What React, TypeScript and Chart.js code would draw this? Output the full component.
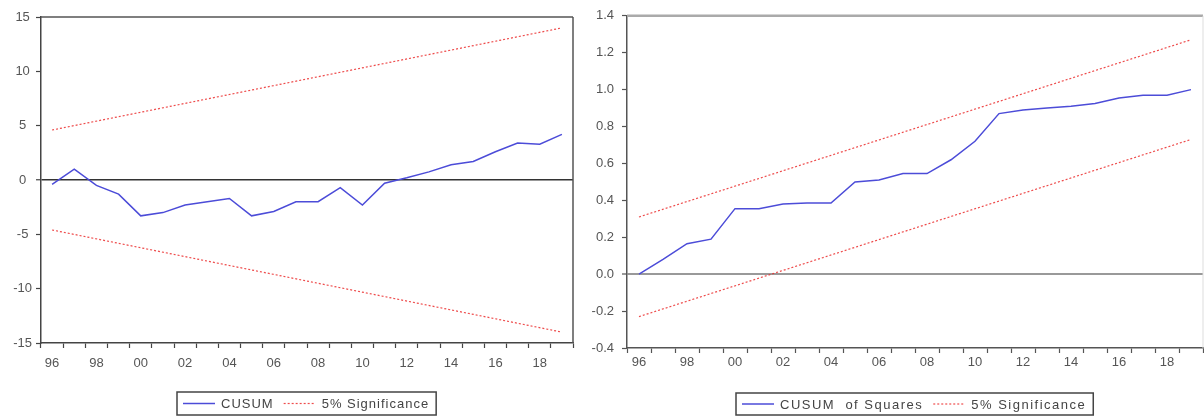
import React, { useEffect, useRef } from 'react';
import { Chart, registerables } from 'chart.js';

Chart.register(...registerables);

// ---------- data ----------
const years = ['96', '97', '98', '99', '00', '01', '02', '03', '04', '05', '06', '07',
  '08', '09', '10', '11', '12', '13', '14', '15', '16', '17', '18', '19'];

const cusum = [-0.4, 1.0, -0.5, -1.3, -3.3, -3.0, -2.3, -2.0, -1.7, -3.3, -2.9, -2.0,
  -2.0, -0.7, -2.3, -0.3, 0.2, 0.75, 1.4, 1.7, 2.6, 3.4, 3.3, 4.2];
// significance bands are straight lines: only their end values are read
const cusumUpper = [4.6, null, null, null, null, null, null, null, null, null, null, null,
  null, null, null, null, null, null, null, null, null, null, null, 14.0];
const cusumLower = [-4.6, null, null, null, null, null, null, null, null, null, null, null,
  null, null, null, null, null, null, null, null, null, null, null, -14.0];
const cusumTicks = [-15, -10, -5, 0, 5, 10, 15];

const cusumSq = [0.0, 0.08, 0.165, 0.19, 0.355, 0.355, 0.38, 0.385, 0.385, 0.50, 0.51, 0.545,
  0.545, 0.62, 0.72, 0.87, 0.89, 0.90, 0.91, 0.925, 0.955, 0.97, 0.97, 1.0];
const sqUpper = [0.31, null, null, null, null, null, null, null, null, null, null, null,
  null, null, null, null, null, null, null, null, null, null, null, 1.27];
const sqLower = [-0.23, null, null, null, null, null, null, null, null, null, null, null,
  null, null, null, null, null, null, null, null, null, null, null, 0.73];
const sqTicks = [-0.4, -0.2, 0.0, 0.2, 0.4, 0.6, 0.8, 1.0, 1.2, 1.4];

const cusumLabel = 'CUSUM';
const sqLabel = 'CUSUM  of Squares';
const sigLabel = '5% Significance';

// ---------- styling ----------
const FONT = '"Liberation Sans", Arial, sans-serif';
const BLUE = '#4c4cd8';
const RED = 'rgba(235, 45, 45, 0.85)';

Chart.defaults.font.family = FONT;

const framePlugin = {
  id: 'frame',
  afterDatasetsDraw(chart: any, _args: any, o: any) {
    const { ctx, chartArea: a } = chart;
    ctx.save();
    ctx.strokeStyle = o.topColor;
    ctx.lineWidth = o.topWidth;
    ctx.beginPath();
    ctx.moveTo(a.left, a.top);
    ctx.lineTo(a.right, a.top);
    ctx.stroke();
    ctx.strokeStyle = o.rightColor;
    ctx.lineWidth = o.rightWidth;
    ctx.beginPath();
    ctx.moveTo(a.right, a.top);
    ctx.lineTo(a.right, a.bottom);
    ctx.stroke();
    ctx.restore();
  },
};

const boxLegendPlugin = {
  id: 'boxLegend',
  afterDraw(chart: any, _args: any, o: any) {
    const { ctx, chartArea: a } = chart;
    const seen = new Set<string>();
    const items: any[] = [];
    chart.data.datasets.forEach((d: any) => {
      if (!seen.has(d.label)) {
        seen.add(d.label);
        items.push(d);
      }
    });
    ctx.save();
    ctx.font = `${o.size}px ${FONT}`;
    (ctx as any).letterSpacing = `${o.spacing}px`;
    const sampleW = o.sampleW;
    const padL = 6, gapS = 6, gapB = 10, padR = 7;
    const widths = items.map((d) => ctx.measureText(d.label).width);
    let total = padL + padR + gapB * (items.length - 1);
    widths.forEach((w) => { total += sampleW + gapS + w; });
    const x0 = Math.round((a.left + a.right) / 2 - total / 2);
    const y0 = o.top;
    const h = o.height;
    ctx.strokeStyle = '#444';
    ctx.lineWidth = 1.5;
    ctx.strokeRect(x0, y0, total, h);
    const cy = y0 + h / 2;
    let x = x0 + padL;
    items.forEach((d, i) => {
      ctx.strokeStyle = d.borderColor;
      ctx.lineWidth = d.borderWidth;
      ctx.setLineDash(d.borderDash || []);
      ctx.beginPath();
      ctx.moveTo(x, cy);
      ctx.lineTo(x + sampleW, cy);
      ctx.stroke();
      ctx.setLineDash([]);
      x += sampleW + gapS;
      ctx.fillStyle = '#444';
      ctx.textAlign = 'left';
      ctx.textBaseline = 'middle';
      ctx.fillText(d.label, x, cy + 1);
      x += widths[i] + gapB;
    });
    ctx.restore();
  },
};

type PanelProps = {
  left: number;
  width: number;
  mainLabel: string;
  main: number[];
  upper: (number | null)[];
  lower: (number | null)[];
  ticks: number[];
  decimals: number;
  yWidth: number;
  padding: { top: number; right: number; bottom: number };
  xHeight: number;
  xPad: number;
  yPad: number;
  crossAlign: 'near' | 'center';
  axisColor: string;
  zeroColor: string;
  zeroWidth: number;
  frame: any;
  legend: any;
};

function Panel(p: PanelProps) {
  const ref = useRef<HTMLCanvasElement | null>(null);
  useEffect(() => {
    if (!ref.current) return;
    const step = p.ticks[1] - p.ticks[0];
    const chart = new Chart(ref.current, {
      type: 'line',
      data: {
        labels: years,
        datasets: [
          {
            label: p.mainLabel,
            data: p.main,
            borderColor: BLUE,
            borderWidth: 1.5,
            pointRadius: 0,
            tension: 0,
          },
          {
            label: sigLabel,
            data: p.upper,
            borderColor: RED,
            borderWidth: 1.2,
            borderDash: [2, 2],
            pointRadius: 0,
            spanGaps: true,
          },
          {
            label: sigLabel,
            data: p.lower,
            borderColor: RED,
            borderWidth: 1.2,
            borderDash: [2, 2],
            pointRadius: 0,
            spanGaps: true,
          },
        ],
      } as any,
      options: {
        responsive: false,
        animation: false,
        events: [],
        layout: { padding: { left: 0, top: p.padding.top, right: p.padding.right, bottom: p.padding.bottom } },
        plugins: {
          legend: { display: false },
          tooltip: { enabled: false },
          frame: p.frame,
          boxLegend: p.legend,
        } as any,
        scales: {
          x: {
            type: 'category',
            offset: true,
            afterFit: (s: any) => { s.height = p.xHeight; },
            grid: {
              offset: true,
              drawOnChartArea: false,
              drawTicks: true,
              tickLength: 5,
              tickColor: p.axisColor,
              tickWidth: 1.2,
            },
            border: { display: true, color: p.axisColor, width: 1.5 },
            ticks: {
              autoSkip: false,
              maxRotation: 0,
              minRotation: 0,
              padding: p.xPad,
              color: '#555',
              font: { size: 13, family: FONT },
              callback: (_v: any, i: number) => (i % 2 === 0 ? years[i] : ''),
            },
          },
          y: {
            min: p.ticks[0],
            max: p.ticks[p.ticks.length - 1],
            afterFit: (s: any) => { s.width = p.yWidth; },
            grid: {
              drawOnChartArea: true,
              drawTicks: true,
              tickLength: 5,
              tickColor: p.axisColor,
              tickWidth: 1.2,
              color: (c: any) => (c.tick && Math.abs(c.tick.value) < 1e-9 ? p.zeroColor : 'rgba(0,0,0,0)'),
              lineWidth: (c: any) => (c.tick && Math.abs(c.tick.value) < 1e-9 ? p.zeroWidth : 1),
            },
            border: { display: true, color: p.axisColor, width: 1.5 },
            ticks: {
              stepSize: step,
              padding: p.yPad,
              crossAlign: p.crossAlign,
              color: '#555',
              font: { size: 13, family: FONT },
              callback: (v: any) => {
                const n = Number(v);
                return (Math.abs(n) < 1e-9 ? 0 : n).toFixed(p.decimals);
              },
            },
          },
        },
      } as any,
      plugins: [framePlugin, boxLegendPlugin],
    });
    return () => chart.destroy();
  }, []);
  return (
    <canvas
      ref={ref}
      width={p.width}
      height={419}
      style={{ position: 'absolute', left: p.left, top: 0, width: p.width, height: 419 }}
    />
  );
}

export default function App() {
  return (
    <div style={{ position: 'absolute', left: 0, top: 0, width: 1204, height: 419, background: '#fff', overflow: 'hidden' }}>
      <Panel
        left={0}
        width={580}
        mainLabel={cusumLabel}
        main={cusum}
        upper={cusumUpper}
        lower={cusumLower}
        ticks={cusumTicks}
        decimals={0}
        yWidth={41}
        padding={{ top: 17, right: 7, bottom: 46 }}
        xHeight={30}
        xPad={8}
        yPad={4}
        crossAlign="center"
        axisColor="#444"
        zeroColor="#333"
        zeroWidth={1.5}
        frame={{ topColor: '#555', topWidth: 1.5, rightColor: '#555', rightWidth: 1.5 }}
        legend={{ top: 392, height: 23, size: 13, spacing: 1, sampleW: 32 }}
      />
      <Panel
        left={580}
        width={624}
        mainLabel={sqLabel}
        main={cusumSq}
        upper={sqUpper}
        lower={sqLower}
        ticks={sqTicks}
        decimals={1}
        yWidth={47}
        padding={{ top: 15, right: 1, bottom: 41 }}
        xHeight={30}
        xPad={2}
        yPad={8}
        crossAlign="near"
        axisColor="#555"
        zeroColor="#999"
        zeroWidth={2}
        frame={{ topColor: '#aaa', topWidth: 2.5, rightColor: '#ddd', rightWidth: 1 }}
        legend={{ top: 393, height: 22, size: 13, spacing: 1.5, sampleW: 32 }}
      />
    </div>
  );
}
